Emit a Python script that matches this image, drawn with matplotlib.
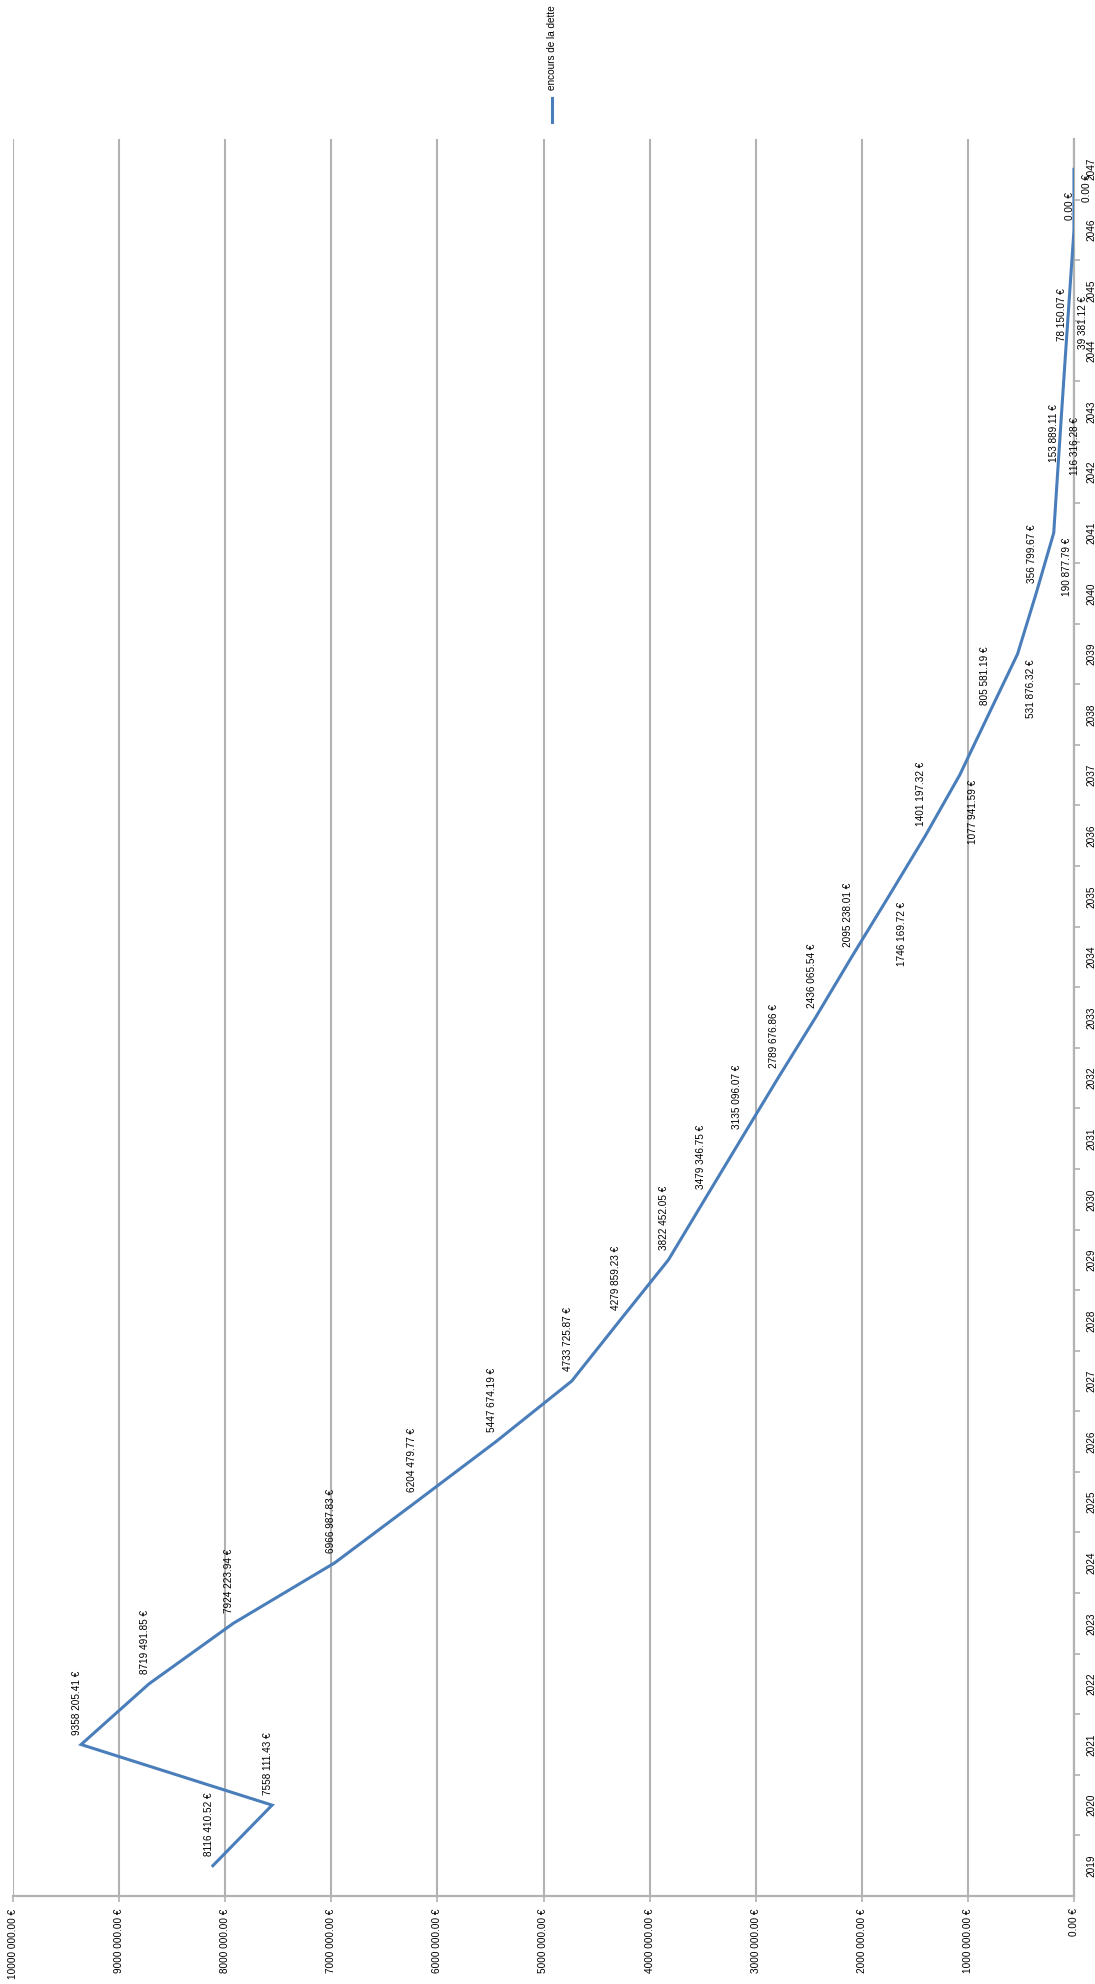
import matplotlib.pyplot as plt
from matplotlib.lines import Line2D
from matplotlib.ticker import FixedLocator, FuncFormatter

# outstanding debt at year end (EUR)
years = list(range(2019, 2048))
encours = [
    8116410.52, 7558111.43, 9358205.41, 8719491.85, 7924223.94,
    6966987.83, 6204479.77, 5447674.19, 4733725.87, 4279859.23,
    3822452.05, 3479346.75, 3135096.07, 2789676.86, 2436065.54,
    2095238.01, 1746169.72, 1401197.32, 1077941.59, 805581.19,
    531876.32, 356799.67, 190877.79, 153889.11, 116316.28,
    78150.07, 39381.12, 0.00, 0.00,
]
value_ticks = [i * 1_000_000 for i in range(11)]
series_name = 'encours de la dette'

# labels of these years sit on the other side of the line
labels_below = [2035, 2037, 2039, 2041, 2043, 2045, 2047]

LINE_COLOR = '#4A7EBB'
GRID_COLOR = '#B2B2B2'
FONT = 'Liberation Sans'
FS = 7.2


def euro(v, pos=None):
    cents = round(v * 100)
    whole, frac = divmod(cents, 100)
    if whole >= 1000:
        txt = f"{whole // 1000} {whole % 1000:03d}"
    else:
        txt = f"{whole}"
    return f"{txt}.{frac:02d} \u20ac"


plt.rcParams['font.family'] = [FONT, 'DejaVu Sans']

W, H = 1095, 1984
fig = plt.figure(figsize=(W / 100, H / 100), dpi=100)
left, right, top, bottom = 13, 1074, 139, 1896
ax = fig.add_axes([left / W, 1 - bottom / H, (right - left) / W, (bottom - top) / H])

# chart is drawn turned on its side: years run upwards, values grow to the left
ax.plot(encours, years, color=LINE_COLOR, linewidth=2.2, solid_joinstyle='miter', zorder=3)

ax.set_xlim(10_000_000, 0)
ax.set_ylim(years[0] - 0.5, years[-1] + 0.5)

ax.xaxis.set_major_locator(FixedLocator(value_ticks))
ax.xaxis.set_major_formatter(FuncFormatter(euro))
ax.grid(axis='x', color=GRID_COLOR, linewidth=1.5)
ax.set_axisbelow(True)

ax.yaxis.tick_right()
ax.set_yticks(years)
ax.set_yticklabels([str(y) for y in years])
ax.set_yticks([y + 0.5 for y in years[:-1]], minor=True)

ax.tick_params(axis='x', which='major', length=4, width=1.2, color=GRID_COLOR,
               pad=5, labelsize=FS, labelrotation=90)
ax.tick_params(axis='y', which='major', length=0, pad=9, labelsize=FS)
ax.tick_params(axis='y', which='minor', right=True, left=False, length=4,
               width=1.2, color=GRID_COLOR)
for lbl in ax.get_yticklabels():
    lbl.set_rotation(90)
    lbl.set_va('center')
for lbl in ax.get_xticklabels():
    lbl.set_va('top')

for side in ('top', 'left'):
    ax.spines[side].set_visible(False)
for side in ('right', 'bottom'):
    ax.spines[side].set_color(GRID_COLOR)
    ax.spines[side].set_linewidth(1.6)

# data labels
for y, v in zip(years, encours):
    if y in labels_below:
        ax.annotate(euro(v), (v, y), xytext=(13, -5), textcoords='offset pixels',
                    rotation=90, ha='center', va='top', fontsize=FS, zorder=4)
    else:
        ax.annotate(euro(v), (v, y), xytext=(-4, 10), textcoords='offset pixels',
                    rotation=90, ha='center', va='bottom', fontsize=FS, zorder=4)

# legend, turned like the rest of the chart
lx = 552 / W
fig.add_artist(Line2D([lx, lx], [1 - 122 / H, 1 - 98 / H], color=LINE_COLOR,
                      linewidth=2.2, transform=fig.transFigure))
fig.text(lx, 1 - 90 / H, series_name, rotation=90, ha='center', va='bottom',
         fontsize=FS)

fig.savefig('out.png', dpi=100)
